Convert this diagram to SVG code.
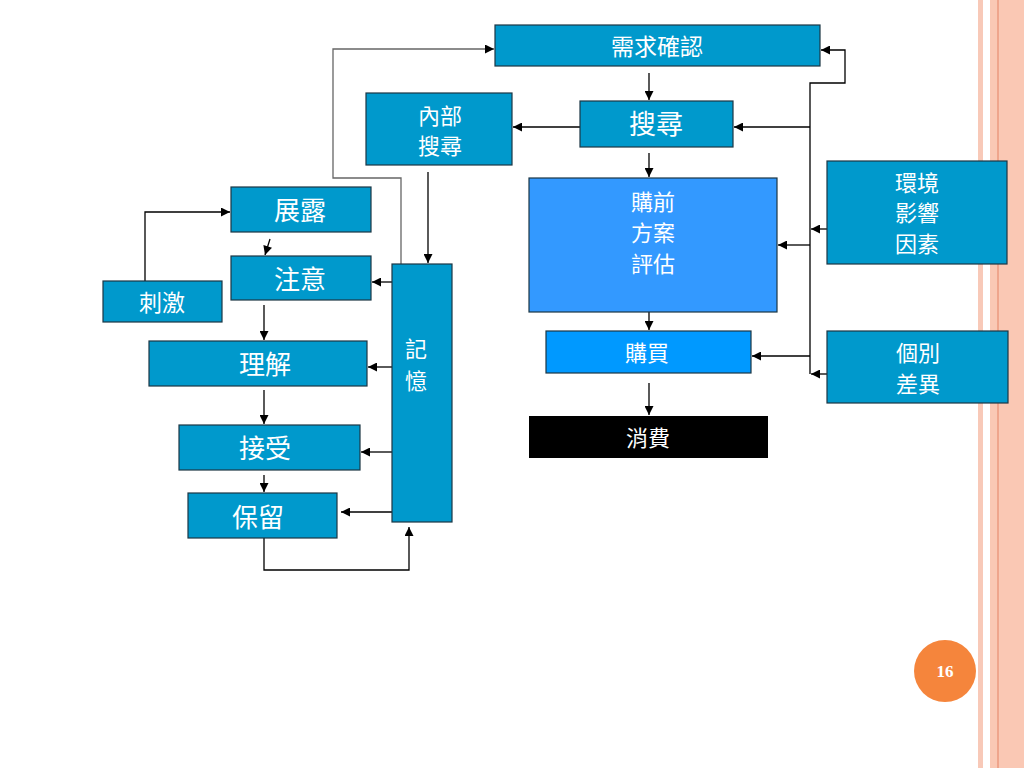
<svg xmlns="http://www.w3.org/2000/svg" width="1024" height="768" viewBox="0 0 1024 768">
<defs>
<marker id="ah" viewBox="0 0 10 10" refX="10" refY="5" markerWidth="10" markerHeight="9" markerUnits="userSpaceOnUse" orient="auto">
<path d="M0,0 L10,5 L0,10 z" fill="#000"/>
</marker>
<style>
.box{fill:#0099CC;stroke:#1B3644;stroke-width:1.2}
.t{font-family:"Noto Sans CJK TC","Noto Sans CJK SC",sans-serif;fill:#fff;text-anchor:middle}
.c{fill:none;stroke:#000;stroke-width:1.3}
.g{fill:none;stroke:#666;stroke-width:1.3}
</style>
</defs>
<rect width="1024" height="768" fill="#fff"/>
<g id="border">
<rect x="978" y="0" width="5" height="768" fill="#F8C9B8"/>
<rect x="990" y="0" width="34" height="768" fill="#FAC8B4"/>
<rect x="997" y="0" width="2" height="768" fill="#EFA58C"/>
</g>
<g id="connectors">
<path class="c" d="M649,73 V100" marker-end="url(#ah)"/>
<path class="c" d="M580,127 H513" marker-end="url(#ah)"/>
<path class="c" d="M649,153 V177" marker-end="url(#ah)"/>
<path class="c" d="M649,312 V330" marker-end="url(#ah)"/>
<path class="c" d="M649,383 V415" marker-end="url(#ah)"/>
<path class="c" d="M810,374 V83 H845 V50 H821" marker-end="url(#ah)"/>
<path class="c" d="M810,127 H734" marker-end="url(#ah)"/>
<path class="c" d="M810,245 H778" marker-end="url(#ah)"/>
<path class="c" d="M827,229 H811" marker-end="url(#ah)"/>
<path class="c" d="M810,356 H752" marker-end="url(#ah)"/>
<path class="c" d="M827,374 H811" marker-end="url(#ah)"/>
<path class="g" d="M401,264 V178 H333 V49 H494" marker-end="url(#ah)"/>
<path class="c" d="M428,172 V263" marker-end="url(#ah)"/>
<path class="c" d="M392,282 H372" marker-end="url(#ah)"/>
<path class="c" d="M392,367 H368" marker-end="url(#ah)"/>
<path class="c" d="M392,452 H361" marker-end="url(#ah)"/>
<path class="c" d="M392,512 H341" marker-end="url(#ah)"/>
<path class="c" d="M264,538 V570 H409 V527" marker-end="url(#ah)"/>
<path class="c" d="M145,281 V212 H230" marker-end="url(#ah)"/>
<path class="c" d="M270,239 L265,255" marker-end="url(#ah)"/>
<path class="c" d="M264,305 V340" marker-end="url(#ah)"/>
<path class="c" d="M264,390 V424" marker-end="url(#ah)"/>
<path class="c" d="M264,475 V492" marker-end="url(#ah)"/>
</g>
<g id="n-need"><rect class="box" x="495" y="25" width="325" height="41"/><text class="t" x="657" y="55" font-size="23">需求確認</text></g>
<g id="n-search"><rect class="box" x="580" y="101" width="153" height="46"/><text class="t" x="656" y="134" font-size="27">搜尋</text></g>
<g id="n-internal"><rect class="box" x="366" y="93" width="146" height="72"/><text class="t" x="440" y="124" font-size="22">內部</text><text class="t" x="440" y="154" font-size="22">搜尋</text></g>
<g id="n-eval"><rect x="529" y="178" width="248" height="134" fill="#3399FF" stroke="#1B3644" stroke-width="1.2"/><text class="t" x="653" y="210" font-size="22">購前</text><text class="t" x="653" y="241" font-size="22">方案</text><text class="t" x="653" y="272" font-size="22">評估</text></g>
<g id="n-buy"><rect x="546" y="331" width="205" height="42" fill="#0099FF" stroke="#1B3644" stroke-width="1.2"/><text class="t" x="647" y="361" font-size="22">購買</text></g>
<g id="n-consume"><rect x="529" y="416" width="239" height="42" fill="#000"/><text class="t" x="648" y="446" font-size="22">消費</text></g>
<g id="n-env"><rect class="box" x="827" y="161" width="180" height="103"/><text class="t" x="917" y="191" font-size="22">環境</text><text class="t" x="917" y="221" font-size="22">影響</text><text class="t" x="917" y="252" font-size="22">因素</text></g>
<g id="n-indiv"><rect class="box" x="827" y="331" width="181" height="72"/><text class="t" x="918" y="361" font-size="22">個別</text><text class="t" x="918" y="392" font-size="22">差異</text></g>
<g id="n-expose"><rect class="box" x="231" y="187" width="140" height="45"/><text class="t" x="300" y="220" font-size="26">展露</text></g>
<g id="n-attention"><rect class="box" x="231" y="256" width="140" height="44"/><text class="t" x="300" y="289" font-size="26">注意</text></g>
<g id="n-stimulus"><rect class="box" x="103" y="281" width="119" height="41"/><text class="t" x="162" y="311" font-size="23">刺激</text></g>
<g id="n-comprehend"><rect class="box" x="149" y="341" width="218" height="45"/><text class="t" x="265" y="374" font-size="26">理解</text></g>
<g id="n-accept"><rect class="box" x="179" y="425" width="181" height="45"/><text class="t" x="265" y="458" font-size="26">接受</text></g>
<g id="n-retain"><rect class="box" x="188" y="493" width="149" height="45"/><text class="t" x="258" y="527" font-size="26">保留</text></g>
<g id="n-memory"><rect class="box" x="392" y="264" width="60" height="258"/><text class="t" x="416" y="357" font-size="22">記</text><text class="t" x="416" y="389" font-size="22">憶</text></g>
<g id="page"><circle cx="945" cy="671" r="31" fill="#F5853C"/><text x="945" y="677" font-family="Liberation Serif,serif" font-weight="bold" font-size="17" fill="#fff" text-anchor="middle">16</text></g>
</svg>
